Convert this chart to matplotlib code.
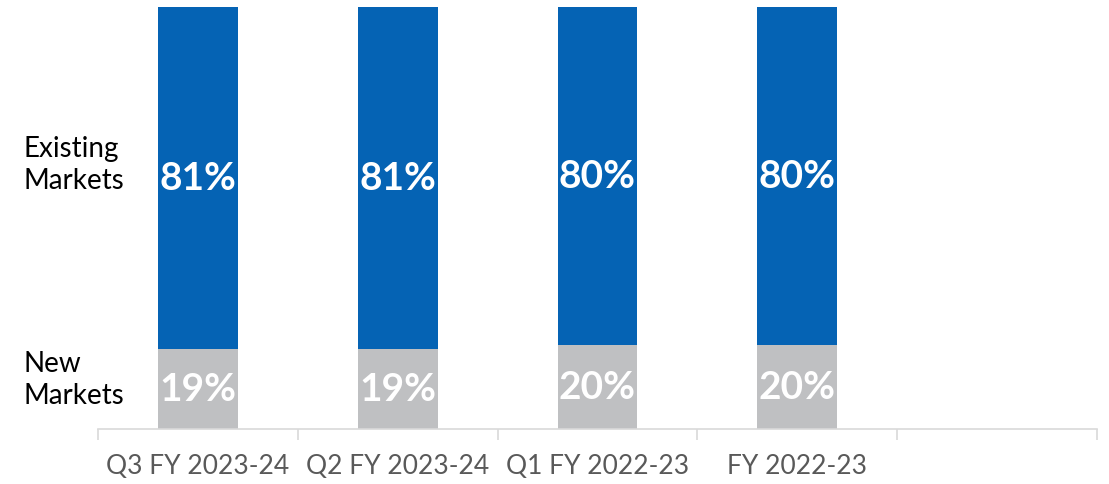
import matplotlib
matplotlib.use("Agg")
import matplotlib.pyplot as plt

periods = ["Q3 FY 2023-24", "Q2 FY 2023-24", "Q1 FY 2022-23", "FY 2022-23", ""]
existing = [81, 81, 80, 80]
new = [19, 19, 20, 20]

BLUE = "#0563B4"
GRAY = "#BFC0C2"
FONT = "Lato"

W, H = 1109, 485
fig = plt.figure(figsize=(W / 100, H / 100), dpi=100)
ax = fig.add_axes([98 / W, (H - 430) / H, (1097 - 98) / W, (430 - 8) / H])

x = list(range(len(existing)))
ax.bar(x, new, width=0.4, color=GRAY)
ax.bar(x, existing, width=0.4, bottom=new, color=BLUE)

for i in x:
    ax.text(i, new[i] / 2, f"{new[i]}%", ha="center", va="center",
            color="white", fontsize=28, fontweight="bold", family=FONT)
    ax.text(i, new[i] + existing[i] / 2, f"{existing[i]}%", ha="center", va="center",
            color="white", fontsize=28, fontweight="bold", family=FONT)

ax.set_xlim(-0.5, len(periods) - 0.5)
ax.set_ylim(0, 100)
ax.set_yticks([])
for s in ["top", "right", "left"]:
    ax.spines[s].set_visible(False)
ax.spines["bottom"].set_color("#D9D9D9")
ax.spines["bottom"].set_linewidth(1.2)

# category boundaries as tick marks, labels in the middle
ax.set_xticks([i - 0.5 for i in range(len(periods) + 1)])
ax.set_xticklabels([])
ax.tick_params(axis="x", length=8, width=1.2, color="#D9D9D9")
ax.set_xticks(range(len(periods)), minor=True)
ax.set_xticklabels(periods, minor=True, fontsize=19, color="#595959", family=FONT)
ax.tick_params(axis="x", which="minor", length=0, pad=17)

fig.text(24 / W, 1 - 165 / H, "Existing\nMarkets", ha="left", va="center",
         fontsize=20, color="black", family=FONT, linespacing=1.25)
fig.text(24 / W, 1 - 380 / H, "New\nMarkets", ha="left", va="center",
         fontsize=20, color="black", family=FONT, linespacing=1.25)

fig.savefig("out.png", dpi=100)
